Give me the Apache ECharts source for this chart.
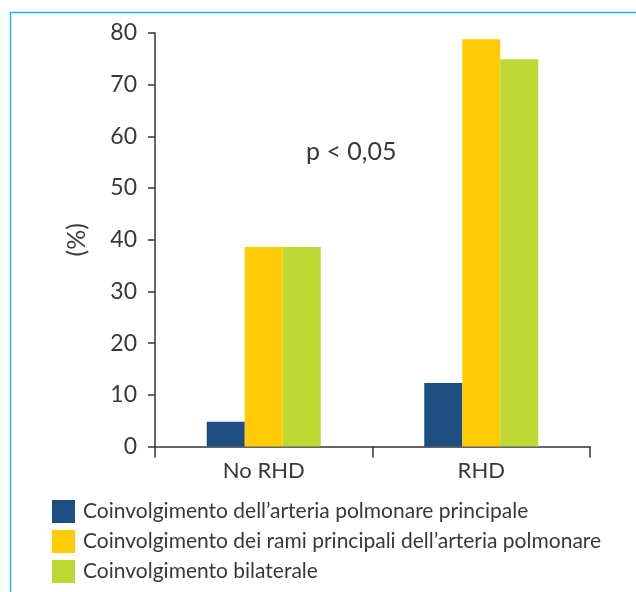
<!DOCTYPE html>
<html>
<head>
<meta charset="utf-8">
<script src="https://cdn.jsdelivr.net/npm/echarts@6/dist/echarts.min.js"></script>
<style>html,body{margin:0;padding:0;background:#fff}#c{width:636px;height:592px}</style>
</head>
<body>
<div id="c"></div>
<script>
var categories = ['No RHD', 'RHD'];
var seriesNames = [
  'Coinvolgimento dell\u2019arteria polmonare principale',
  'Coinvolgimento dei rami principali dell\u2019arteria polmonare',
  'Coinvolgimento bilaterale'
];
var mainArtery = [4.8, 12.3];
var mainBranches = [38.6, 78.8];
var bilateral = [38.6, 74.9];
var colors = ['#1d4d81', '#fecb05', '#bdd733'];
var yTicks = {min: 0, max: 80, interval: 10};
var annotation = 'p < 0,05';
var yName = '(%)';

var FONT = 'Lato';
var TXT = '#383838';
var chart = echarts.init(document.getElementById('c'), null, {renderer: 'canvas'});
var dataSets = [mainArtery, mainBranches, bilateral];
chart.setOption({
  animation: false,
  color: colors,
  textStyle: {fontFamily: FONT},
  grid: {left: 155, right: 46, top: 33, bottom: 145.5, containLabel: false},
  legend: {
    orient: 'vertical', left: 52, top: 500, height: 92, padding: 0,
    itemWidth: 23, itemHeight: 23, itemGap: 7,
    icon: 'rect', selectedMode: false,
    textStyle: {fontFamily: FONT, fontSize: 21, color: TXT, padding: [0, 0, 0, 3]},
    data: seriesNames
  },
  xAxis: {
    type: 'category', data: categories,
    axisLine: {lineStyle: {color: '#333', width: 1.5}},
    axisTick: {show: true, length: 11, lineStyle: {color: '#333', width: 1.5}},
    axisLabel: {fontFamily: FONT, fontSize: 22, color: TXT, margin: 13}
  },
  yAxis: {
    type: 'value', min: yTicks.min, max: yTicks.max, interval: yTicks.interval,
    name: yName, nameLocation: 'middle', nameRotate: 90, nameGap: 66,
    nameTextStyle: {fontFamily: FONT, fontSize: 25, color: TXT},
    splitLine: {show: false},
    axisLine: {show: true, lineStyle: {color: '#333', width: 1.5}},
    axisTick: {show: true, length: 7, lineStyle: {color: '#333', width: 1.5}},
    axisLabel: {fontFamily: FONT, fontSize: 23, color: TXT, margin: 18}
  },
  series: seriesNames.map(function (n, i) {
    return {name: n, type: 'bar', data: dataSets[i], barWidth: 38, barGap: '0%'};
  }),
  graphic: [
    {type: 'line', shape: {x1: 10, y1: 12.5, x2: 636, y2: 12.5}, style: {stroke: '#22b5e9', lineWidth: 1.5}},
    {type: 'line', shape: {x1: 10.5, y1: 12, x2: 10.5, y2: 592}, style: {stroke: '#22b5e9', lineWidth: 1.5}},
    {type: 'text', left: 306, top: 139, style: {text: annotation, font: '25px Lato', fill: TXT}}
  ]
});
</script>
</body>
</html>
